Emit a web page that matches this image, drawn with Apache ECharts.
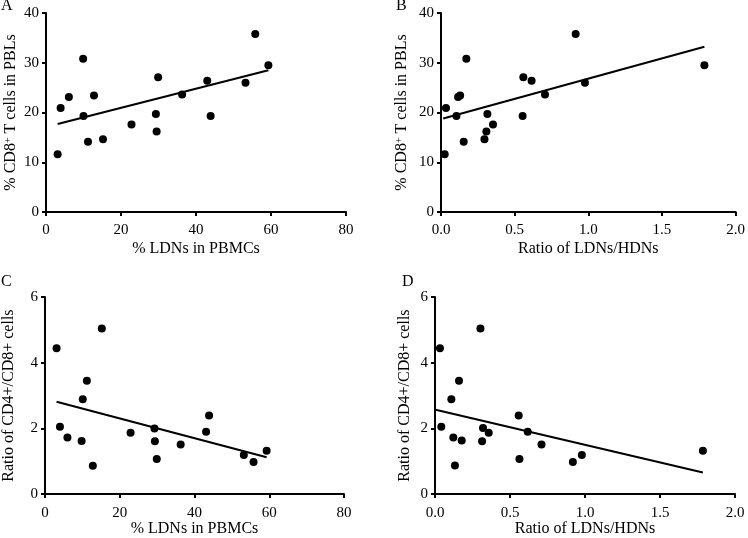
<!DOCTYPE html>
<html>
<head>
<meta charset="utf-8">
<script src="https://cdn.jsdelivr.net/npm/echarts@6/dist/echarts.min.js"></script>
<style>
  html, body { margin: 0; padding: 0; background: #fff; }
  #chart { width: 748px; height: 538px; }
</style>
</head>
<body>
<div id="chart"></div>
<script>
// values, one point per patient
const ldnPct = [3.1, 3.9, 6.1, 9.9, 10.0, 11.2, 12.8, 15.2, 22.8, 29.3, 29.5, 29.9, 36.3, 43.0, 43.9, 53.2, 55.8, 59.3];
const cd8A = [11.6, 20.9, 23.1, 30.8, 19.3, 14.1, 23.4, 14.6, 17.6, 19.7, 16.2, 27.1, 23.6, 26.4, 19.3, 26.0, 35.8, 29.5];

const ldnRatio = [0.025, 0.034, 0.105, 0.116, 0.130, 0.154, 0.172, 0.295, 0.308, 0.315, 0.353, 0.554, 0.559, 0.615, 0.706, 0.914, 0.977, 1.788];
const cd8B = [11.6, 20.9, 19.3, 23.1, 23.4, 14.1, 30.8, 14.6, 16.2, 19.7, 17.6, 19.3, 27.1, 26.4, 23.6, 35.8, 26.0, 29.5];

const ldnPctC = [3.1, 4.0, 6.0, 9.8, 10.1, 11.2, 12.8, 15.2, 22.9, 29.3, 29.4, 29.9, 36.3, 43.1, 43.9, 53.2, 55.8, 59.3];
const cd4cd8C = [4.44, 2.05, 1.72, 1.62, 2.89, 3.45, 0.86, 5.04, 1.87, 2.00, 1.61, 1.07, 1.51, 1.90, 2.39, 1.19, 0.98, 1.32];

const ldnRatioD = [0.033, 0.042, 0.109, 0.122, 0.133, 0.160, 0.178, 0.303, 0.314, 0.320, 0.358, 0.558, 0.563, 0.618, 0.710, 0.919, 0.979, 1.786];
const cd4cd8D = [4.44, 2.05, 2.89, 1.72, 0.87, 3.45, 1.63, 5.04, 1.61, 2.01, 1.87, 2.39, 1.07, 1.90, 1.51, 0.98, 1.19, 1.32];

// regression line end points
const fitA = [[3.1, 17.7], [59.3, 28.5]];
const fitB = [[0.015, 18.8], [1.788, 33.2]];
const fitC = [[3.1, 2.81], [59.3, 1.12]];
const fitD = [[0.004, 2.57], [1.786, 0.66]];

const panelLetters = ['A', 'B', 'C', 'D'];

const FONT = '"Liberation Serif", "Times New Roman", serif';
const pair = (xs, ys) => xs.map((x, i) => [x, ys[i]]);

const chart = echarts.init(document.getElementById('chart'), null, { renderer: 'canvas' });

const grids = [
  { left: 46, top: 13, width: 300, height: 199 },
  { left: 441, top: 13, width: 298, height: 199 },
  { left: 44, top: 297, width: 300, height: 200 },
  { left: 435, top: 297, width: 300, height: 200 },
];

const axisBase = {
  axisLine: { show: true, lineStyle: { color: '#000', width: 2 } },
  axisTick: { show: true, inside: false, length: 4, lineStyle: { color: '#000', width: 2 } },
  axisLabel: { color: '#000', fontFamily: FONT, fontSize: 15, margin: 11 },
  splitLine: { show: false },
  nameLocation: 'middle',
  nameTextStyle: { color: '#000', fontFamily: FONT, fontSize: 16 },
};

function xAxis(i, ratio, gap) {
  return Object.assign({}, axisBase, {
    gridIndex: i,
    type: 'value',
    min: 0,
    max: ratio ? 2 : 80,
    interval: ratio ? 0.5 : 20,
    name: ratio ? 'Ratio of LDNs/HDNs' : '% LDNs in PBMCs',
    nameGap: gap,
    axisLabel: Object.assign({}, axisBase.axisLabel, {
      formatter: (v) => (ratio ? v.toFixed(1) : String(v)),
    }),
  });
}

function yAxis(i, cd8, gap) {
  return Object.assign({}, axisBase, {
    gridIndex: i,
    type: 'value',
    min: 0,
    max: cd8 ? 40 : 6,
    interval: cd8 ? 10 : 2,
    name: cd8 ? '% CD8{sup|+} T cells in PBLs' : 'Ratio of CD4+/CD8+ cells',
    nameRotate: 90,
    nameGap: gap,
    nameTextStyle: Object.assign({}, axisBase.nameTextStyle, {
      rich: { sup: { fontFamily: FONT, fontSize: 10, verticalAlign: 'top', color: '#000' } },
    }),
    axisLabel: Object.assign({}, axisBase.axisLabel, { margin: 7 }),
  });
}

function scatter(i, data) {
  return {
    type: 'scatter', xAxisIndex: i, yAxisIndex: i, data,
    symbol: 'circle', symbolSize: 8,
    itemStyle: { color: '#000', opacity: 1 },
    silent: true,
  };
}

function fitLine(i, data) {
  return {
    type: 'line', xAxisIndex: i, yAxisIndex: i, data,
    symbol: 'none', lineStyle: { color: '#000', width: 2 },
    silent: true,
  };
}

chart.setOption({
  animation: false,
  backgroundColor: '#fff',
  title: [
    { text: panelLetters[0], left: 1, top: -2 },
    { text: panelLetters[1], left: 396, top: -2 },
    { text: panelLetters[2], left: 1, top: 274 },
    { text: panelLetters[3], left: 402, top: 274 },
  ].map((t) => Object.assign(t, {
    padding: 0,
    textStyle: { color: '#000', fontFamily: FONT, fontSize: 16, fontWeight: 'normal' },
  })),
  grid: grids,
  xAxis: [
    xAxis(0, false, 29),
    xAxis(1, true, 29),
    xAxis(2, false, 20),
    xAxis(3, true, 20),
  ],
  yAxis: [
    yAxis(0, true, 27),
    yAxis(1, true, 31),
    yAxis(2, false, 28),
    yAxis(3, false, 22),
  ],
  series: [
    scatter(0, pair(ldnPct, cd8A)),
    fitLine(0, fitA),
    scatter(1, pair(ldnRatio, cd8B)),
    fitLine(1, fitB),
    scatter(2, pair(ldnPctC, cd4cd8C)),
    fitLine(2, fitC),
    scatter(3, pair(ldnRatioD, cd4cd8D)),
    fitLine(3, fitD),
  ],
});
</script>
</body>
</html>
